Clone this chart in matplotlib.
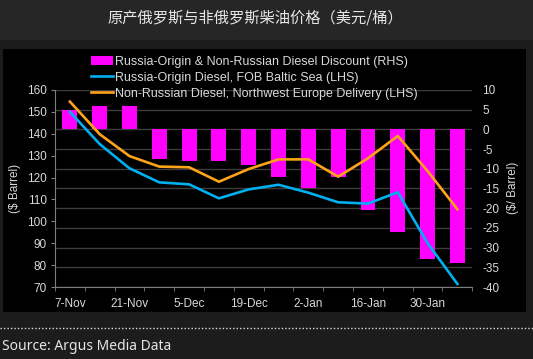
import numpy as np
import matplotlib
matplotlib.use('Agg')
import matplotlib.pyplot as plt
from matplotlib.patches import Rectangle
from matplotlib.lines import Line2D

plt.rcParams['font.family'] = ['Liberation Sans', 'DejaVu Sans']
plt.rcParams['axes.unicode_minus'] = False

# Weekly data (7-Nov .. 6-Feb)
weeks = ['7-Nov', '14-Nov', '21-Nov', '28-Nov', '5-Dec', '12-Dec', '19-Dec',
         '26-Dec', '2-Jan', '9-Jan', '16-Jan', '23-Jan', '30-Jan', '6-Feb']
discount = [5, 6, 6, -7.5, -8, -8, -9, -12, -15, -12, -20.5, -26, -33, -34]
russia_fob = [150, 135.3, 124.2, 117.8, 116.9, 110.5, 114.6, 116.7, 113.1,
              108.7, 108.1, 113.3, 90, 71.4]
non_russian = [154.7, 139.8, 129.8, 125, 124.7, 118.1, 123.9, 128.3, 128.3,
               120.4, 128.8, 139, 123, 105.5]

label_bar = 'Russia-Origin & Non-Russian Diesel Discount (RHS)'
label_blue = 'Russia-Origin Diesel, FOB Baltic Sea (LHS)'
label_orange = 'Non-Russian Diesel, Northwest Europe Delivery (LHS)'

W, H = 533, 359
fig = plt.figure(figsize=(W / 100, H / 100), dpi=100, facecolor='#1c1c1c')

# background bands
fig.patches.append(Rectangle((0, 1 - 40 / H), 1, 40 / H, transform=fig.transFigure,
                             facecolor='#262626', edgecolor='none', zorder=-5))
fig.patches.append(Rectangle((3 / W, 1 - 312 / H), 523 / W, 263 / H, transform=fig.transFigure,
                             facecolor='black', edgecolor='none', zorder=-5))
fig.lines.append(Line2D([0, 1], [1 - 328 / H] * 2, transform=fig.transFigure,
                        color='#dddddd', lw=1, linestyle=(0, (1, 1.5)), zorder=-4))

ax = fig.add_axes([55 / W, 1 - 287 / H, (472.3 - 55) / W, (287 - 90) / H])
ax2 = ax.twinx()
ax.set_zorder(ax2.get_zorder() + 1)
ax.patch.set_visible(False)
ax2.patch.set_facecolor('black')

x = np.arange(len(weeks))
bars = ax2.bar(x, discount, width=0.5, color='#ff00ff', zorder=2)
l1, = ax.plot(x, russia_fob, color='#00b0f0', lw=1.9, solid_joinstyle='round')
l2, = ax.plot(x, non_russian, color='#ffa31a', lw=1.9, solid_joinstyle='round')

ax.set_ylim(70, 160)
ax.set_yticks(np.arange(70, 161, 10))
ax2.set_ylim(-40, 10)
ax2.set_yticks(np.arange(-40, 11, 5))
ax.set_xlim(-0.5, 13.5)
ax.set_xticks(x[::2])
ax.set_xticklabels(weeks[::2])
ax.set_xticks(np.arange(-0.5, 14, 1), minor=True)

ax2.grid(axis='y', color='#3c3c3c', lw=1, zorder=0)
ax2.set_axisbelow(True)

tc = '#d9d9d9'
ax.tick_params(axis='x', which='major', length=0, pad=8, colors=tc, labelsize=8.5)
ax.tick_params(axis='x', which='minor', length=3, direction='out', color='#7f7f7f')
ax.tick_params(axis='y', length=3, color='#7f7f7f', labelcolor=tc, labelsize=8.5, pad=3)
ax2.tick_params(axis='y', length=0, labelcolor=tc, labelsize=8.5, pad=7)
for a in (ax, ax2):
    for s in ('top', 'right'):
        a.spines[s].set_visible(False)
ax2.spines['left'].set_visible(False)
ax2.spines['bottom'].set_visible(False)
ax.spines['left'].set_color('#7f7f7f')
ax.spines['bottom'].set_color('#7f7f7f')

fig.text(15 / W, 1 - 188 / H, '($ Barrel)', rotation=90, color=tc, fontsize=8.5,
         ha='center', va='center')
fig.text(513 / W, 1 - 188 / H, '($/ Barrel)', rotation=90, color=tc, fontsize=8.5,
         ha='center', va='center')

fig.legend([bars, l1, l2], [label_bar, label_blue, label_orange],
           loc='upper left', bbox_to_anchor=(91 / W, 1 - 56 / H), frameon=False,
           fontsize=9, labelcolor=tc, handlelength=1.75, handleheight=0.75,
           handletextpad=0.2, labelspacing=0.3, borderpad=0, borderaxespad=0)

fig.text(255 / W, 1 - 18 / H, '原产俄罗斯与非俄罗斯柴油价格（美元/桶）',
         family=['Noto Sans CJK SC', 'DejaVu Sans'], fontsize=11, color='#e6e6e6',
         ha='center', va='center', weight='medium')
fig.text(2 / W, 1 - 346 / H, 'Source: Argus Media Data', family=['Noto Sans', 'DejaVu Sans'],
         fontsize=10, color='#e6e6e6', ha='left', va='center')

fig.savefig('out.png', dpi=100, facecolor=fig.get_facecolor())
